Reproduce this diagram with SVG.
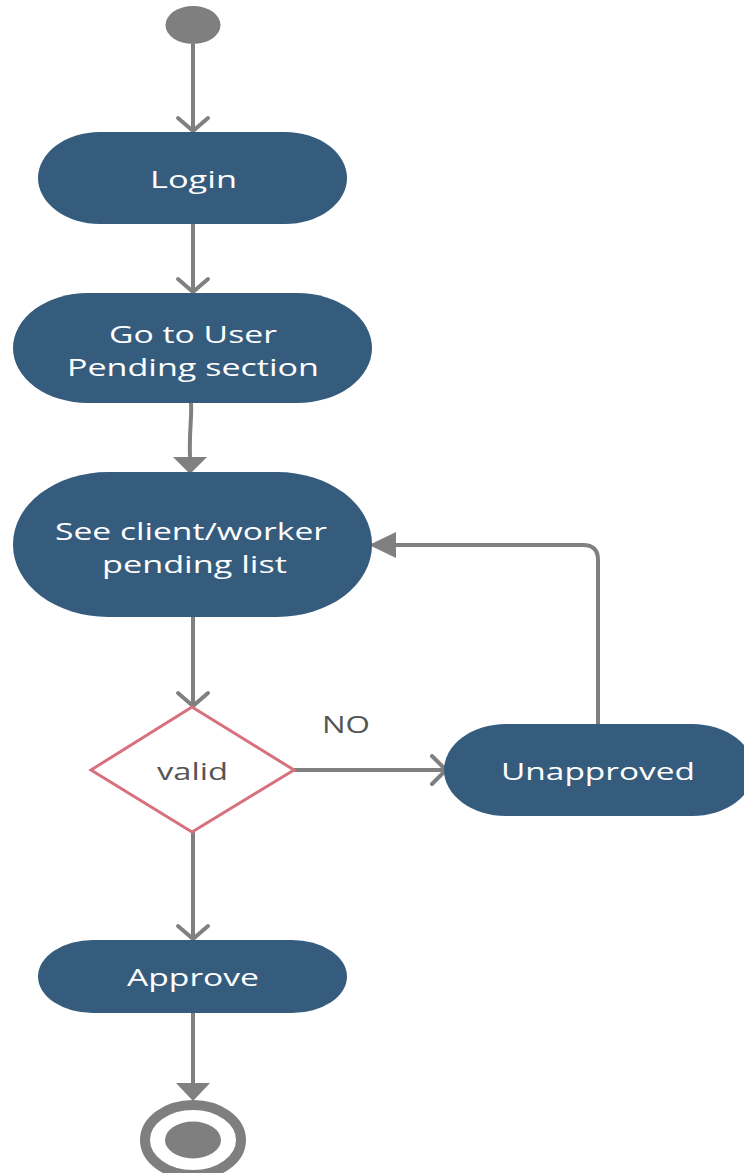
<svg xmlns="http://www.w3.org/2000/svg" width="744" height="1173" viewBox="0 0 744 1173">
<defs>
<style>
.node{fill:#365c7d}
.lbl{font-family:"Open Sans","Noto Sans",sans-serif;font-size:23px;font-weight:500;fill:#ffffff;text-anchor:middle;dominant-baseline:central}
.dk{font-family:"Open Sans","Noto Sans",sans-serif;font-size:23px;fill:#555555;text-anchor:middle;dominant-baseline:central}
.ln{fill:none;stroke:#808080;stroke-width:4}
.open{fill:none;stroke:#808080;stroke-width:4;stroke-linecap:round;stroke-linejoin:round}
.tri{fill:#808080}
</style>
</defs>
<g id="connectors">
<path class="ln" d="M193 44 V130"/>
<path class="open" d="M178 118 L193 131 L208 118"/>
<path class="ln" d="M193 224 V291"/>
<path class="open" d="M178 279 L193 292 L208 279"/>
<path class="ln" d="M191 403 C192 420 189 430 190 458"/>
<polygon class="tri" points="173,457 207,457 190,474"/>
<path class="ln" d="M193 617 V705"/>
<path class="open" d="M178 693 L193 706 L208 693"/>
<path class="ln" d="M294 770 H445"/>
<path class="open" d="M432 756 L446 770 L432 784"/>
<path class="ln" d="M598 724 V560 Q598 545 583 545 H395"/>
<polygon class="tri" points="369,545 396,532 396,558"/>
<path class="ln" d="M193 832 V938"/>
<path class="open" d="M178 926 L193 939 L208 926"/>
<path class="ln" d="M193 1013 V1085"/>
<polygon class="tri" points="176,1083 210,1083 193,1101"/>
</g>
<g id="start"><ellipse cx="193" cy="25" rx="27.5" ry="19" fill="#7f7f7f"/></g>
<g id="login"><rect class="node" x="38" y="132" width="309" height="92" rx="62" ry="46"/><text class="lbl" x="193.5" y="179" textLength="87" lengthAdjust="spacingAndGlyphs">Login</text></g>
<g id="goto"><rect class="node" x="13" y="293" width="359" height="110" rx="75" ry="55"/><text class="lbl" x="193" y="334" textLength="168" lengthAdjust="spacingAndGlyphs">Go to User</text><text class="lbl" x="193" y="367" textLength="252" lengthAdjust="spacingAndGlyphs">Pending section</text></g>
<g id="see"><rect class="node" x="13" y="472" width="359" height="145" rx="95" ry="72"/><text class="lbl" x="191" y="531" textLength="272" lengthAdjust="spacingAndGlyphs">See client/worker</text><text class="lbl" x="194.5" y="564" textLength="185" lengthAdjust="spacingAndGlyphs">pending list</text></g>
<g id="valid"><polygon points="192,707 294,770 192,832 91,770" fill="#ffffff" stroke="#d9707d" stroke-width="3"/><text class="dk" x="192.5" y="771" textLength="71" lengthAdjust="spacingAndGlyphs">valid</text></g>
<g id="no-label"><text class="dk" x="346" y="724" textLength="48" lengthAdjust="spacingAndGlyphs">NO</text></g>
<g id="unapproved"><rect class="node" x="444" y="724" width="310" height="92" rx="62" ry="46"/><text class="lbl" x="598" y="771" textLength="194" lengthAdjust="spacingAndGlyphs">Unapproved</text></g>
<g id="approve"><rect class="node" x="38" y="940" width="309" height="73" rx="55" ry="36.5"/><text class="lbl" x="193" y="977" textLength="132" lengthAdjust="spacingAndGlyphs">Approve</text></g>
<g id="end"><ellipse cx="193" cy="1140" rx="48" ry="35" fill="none" stroke="#7f7f7f" stroke-width="10"/><ellipse cx="193" cy="1140" rx="28" ry="18.5" fill="#7f7f7f"/></g>
</svg>
